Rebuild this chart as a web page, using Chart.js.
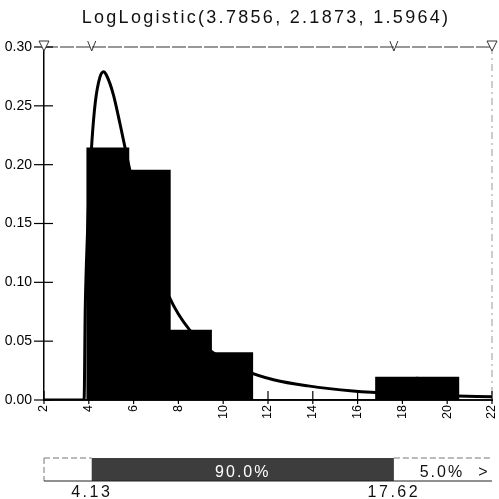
<!DOCTYPE html>
<html><head><meta charset="utf-8">
<script src="https://cdn.jsdelivr.net/npm/chart.js@4.4.1/dist/chart.umd.min.js"></script>
<style>html,body{margin:0;padding:0;background:#fff}#wrap{width:499px;height:499px;position:relative}</style>
</head><body><div id="wrap"><canvas id="c" width="499" height="499"></canvas></div>
<script>
const titleText = 'LogLogistic(3.7856, 2.1873, 1.5964)';
const binCenters = [4.85, 6.70, 8.54, 10.38, 12.22, 14.06, 15.90, 17.74, 19.58];
const binHeights = [0.214, 0.195, 0.059, 0.040, 0, 0, 0, 0.019, 0.019];
const curveX = [2, 3.79, 3.84, 3.89, 3.99, 4.14, 4.29, 4.49, 4.66, 4.79, 5.09, 5.39, 5.79, 6.29, 6.79, 7.79, 8.79, 9.79, 10.99, 12.29, 13.79, 15.79, 17.79, 19.99, 22];
const curveY = [0, 0, 0.076, 0.114, 0.168, 0.220, 0.253, 0.274, 0.279, 0.276, 0.260, 0.235, 0.199, 0.158, 0.125, 0.080, 0.053, 0.037, 0.025, 0.017, 0.012, 0.0077, 0.0053, 0.0037, 0.0028];
const xMin = 2, xMax = 22, xStep = 2;
const yMin = 0, yMax = 0.30, yStep = 0.05;
const leftQuantile = 4.13, rightQuantile = 17.62;
const middleLabel = '90.0%', rightLabel = '5.0%';

const FONT = '"Liberation Sans", Arial, sans-serif';

const decor = {
  id: 'decor',
  afterDatasetsDraw(chart) {
    const ctx = chart.ctx, a = chart.chartArea;
    const xs = chart.scales.x, ys = chart.scales.y;
    ctx.save();
    // top line
    ctx.strokeStyle = '#333'; ctx.lineWidth = 1.2; ctx.setLineDash([14, 2]);
    ctx.beginPath(); ctx.moveTo(a.left, a.top); ctx.lineTo(a.right, a.top); ctx.stroke();
    // right dash-dot line
    ctx.strokeStyle = '#999'; ctx.lineWidth = 1; ctx.setLineDash([7, 4, 2, 4]);
    ctx.beginPath(); ctx.moveTo(a.right, a.top); ctx.lineTo(a.right, a.bottom); ctx.stroke();
    ctx.setLineDash([]);
    // y tick marks crossing the axis
    ctx.strokeStyle = '#000'; ctx.lineWidth = 1.2;
    ys.ticks.forEach(t => {
      const y = ys.getPixelForValue(t.value);
      ctx.beginPath(); ctx.moveTo(a.left - 10, y); ctx.lineTo(a.left + 9, y); ctx.stroke();
    });
    // x tick marks
    xs.ticks.forEach(t => {
      const x = xs.getPixelForValue(t.value);
      ctx.beginPath(); ctx.moveTo(x, a.bottom - 9); ctx.lineTo(x, a.bottom + 4); ctx.stroke();
    });
    // top markers
    ctx.fillStyle = '#fff'; ctx.strokeStyle = '#333'; ctx.lineWidth = 1;
    [xMin, xMax].forEach(v => {
      const x = xs.getPixelForValue(v);
      ctx.beginPath(); ctx.moveTo(x - 5, a.top - 6); ctx.lineTo(x + 5, a.top - 6); ctx.lineTo(x, a.top + 4); ctx.closePath();
      ctx.fill(); ctx.stroke();
    });
    [leftQuantile, rightQuantile].forEach(v => {
      const x = xs.getPixelForValue(v);
      ctx.beginPath(); ctx.moveTo(x - 4, a.top - 6); ctx.lineTo(x, a.top + 4); ctx.lineTo(x + 4, a.top - 6); ctx.stroke();
    });
    ctx.restore();
  },
  afterDraw(chart) {
    const ctx = chart.ctx, a = chart.chartArea, xs = chart.scales.x;
    ctx.save();
    // title
    ctx.fillStyle = '#111';
    ctx.font = '18px ' + FONT;
    ctx.letterSpacing = '2.3px';
    ctx.textAlign = 'center'; ctx.textBaseline = 'alphabetic';
    ctx.fillText(titleText, (a.left + a.right) / 2 - 2, 23);
    // bottom band
    const x0 = xs.getPixelForValue(xMin), x1 = xs.getPixelForValue(leftQuantile);
    const x2 = xs.getPixelForValue(rightQuantile), x3 = xs.getPixelForValue(xMax);
    const y0 = 458, y1 = 481;
    ctx.fillStyle = '#fff'; ctx.fillRect(x0, y0, x3 - x0, y1 - y0);
    ctx.fillStyle = '#3d3d3d'; ctx.fillRect(x1, y0, x2 - x1, y1 - y0);
    ctx.strokeStyle = '#777'; ctx.lineWidth = 1; ctx.setLineDash([6, 3]);
    ctx.beginPath(); ctx.moveTo(x0, y0); ctx.lineTo(x1, y0); ctx.moveTo(x2, y0); ctx.lineTo(x3, y0);
    ctx.moveTo(x0, y0); ctx.lineTo(x0, y1); ctx.stroke();
    ctx.setLineDash([]);
    ctx.strokeStyle = '#222'; ctx.lineWidth = 1.2;
    ctx.beginPath(); ctx.moveTo(x0, y1); ctx.lineTo(x3, y1); ctx.stroke();
    ctx.font = '16px ' + FONT; ctx.letterSpacing = '2px';
    ctx.fillStyle = '#fff'; ctx.textAlign = 'center';
    ctx.fillText(middleLabel, (x1 + x2) / 2, 476.5);
    ctx.fillStyle = '#111';
    ctx.fillText(rightLabel, x2 + 48, 476.5);
    ctx.fillText('>', x3 - 8, 476.5);
    ctx.letterSpacing = '2.5px';
    ctx.fillText(leftQuantile.toFixed(2), x1, 497);
    ctx.fillText(rightQuantile.toFixed(2), x2, 497);
    ctx.restore();
  }
};

new Chart(document.getElementById('c'), {
  data: {
    datasets: [
      {
        type: 'line',
        data: curveX.map((x, i) => ({ x, y: curveY[i] })),
        borderColor: '#000', borderWidth: 3, pointRadius: 0,
        cubicInterpolationMode: 'monotone', order: 0
      },
      {
        type: 'bar',
        data: binCenters.map((x, i) => ({ x, y: binHeights[i] })),
        backgroundColor: '#000', borderWidth: 0, inflateAmount: 0.8,
        categoryPercentage: 1, barPercentage: 1, order: 1
      }
    ]
  },
  options: {
    responsive: false, animation: false,
    layout: { padding: { left: 0, top: 47, right: 7, bottom: 0 } },
    plugins: { legend: { display: false }, title: { display: false }, tooltip: { enabled: false } },
    scales: {
      x: {
        type: 'linear', min: xMin, max: xMax, offset: false,
        afterFit: s => { s.height = 99; s.paddingLeft = 0; s.paddingRight = 0; },
        ticks: { stepSize: xStep, autoSkip: false, minRotation: 90, maxRotation: 90, padding: 5,
                 color: '#000', font: { family: FONT, size: 12.5 } },
        grid: { drawOnChartArea: false, drawTicks: false, offset: false },
        border: { display: true, color: '#111', width: 2 }
      },
      y: {
        min: yMin, max: yMax,
        afterFit: s => { s.width = 44; s.paddingTop = 0; s.paddingBottom = 0; },
        ticks: { stepSize: yStep, padding: 12, color: '#000', font: { family: FONT, size: 14 },
                 callback: v => Number(v).toFixed(2) },
        grid: { drawOnChartArea: false, drawTicks: false },
        border: { display: true, color: '#000', width: 1.5 }
      }
    }
  },
  plugins: [decor]
});
</script>
</body></html>
